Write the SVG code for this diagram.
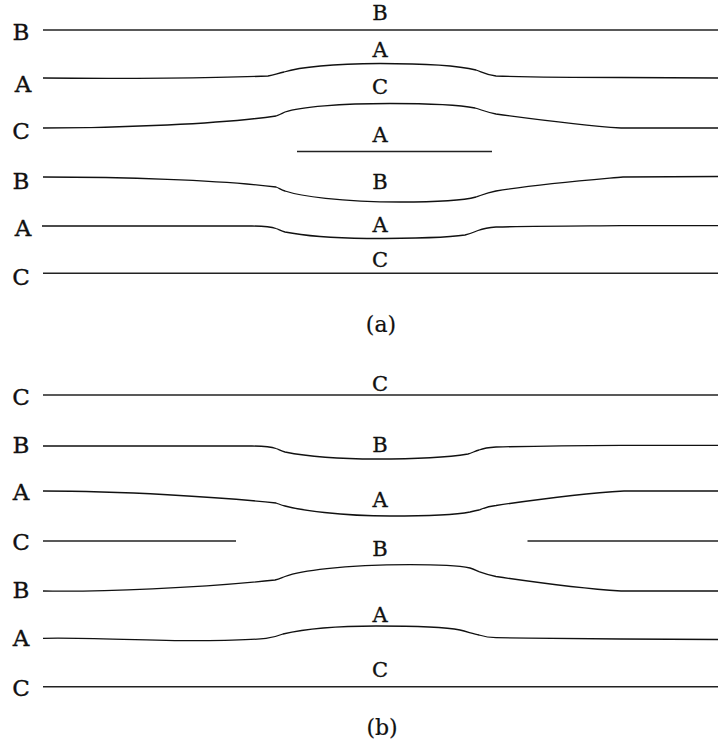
<svg xmlns="http://www.w3.org/2000/svg" width="718" height="747" viewBox="0 0 718 747">
<style>
.bg{fill:#fff}
.ln{fill:none;stroke:#222;stroke-width:1.6}
.cv{fill:none;stroke:#111;stroke-width:1.3}
text{font-family:"DejaVu Serif","Liberation Serif",serif;font-size:21px;fill:#111;stroke:#111;stroke-width:0.35;text-anchor:middle}
.l{font-size:23px}
.cap{font-size:22px;stroke-width:0.2}
</style>
<rect class="bg" x="0" y="0" width="718" height="747"/>
<g id="connectors">
<!-- (a) -->
<path class="ln" d="M43,30 L718,30"/>
<path class="cv" d="M43,78 C120,79 220,78 268,76 C275,75 278,73 284,72 C300,67 330,64 380,63.5 C430,63.5 460,66 476,70 C482,72 486,75 496,76 C540,77.5 590,77.5 621,77.5 L718,78"/>
<path class="cv" d="M43,128 C120,128 220,124 276,116 C279,115 281,114 285,112 C300,107 340,103.5 390,103.5 C430,103.5 460,105 475,108 C482,110 486,112 496,114 C540,120 590,126 621,128 L718,128"/>
<path class="ln" d="M297,151.5 L492,151.5"/>
<path class="cv" d="M43,177 C120,177 220,180 276,187 C279,188 281,190 285,191 C300,196 340,202 400,202 C440,202 465,200 476,197 C482,195 486,193 496,191 C540,184 590,180 623,177 L718,176.5"/>
<path class="cv" d="M42,226 L252,226 C265,226 272,227 276,228.5 C279,229.5 281,231 285,232 C300,235 330,238 367,238.5 C410,238.5 445,238 465,235 C470,234 474,232 478,230.5 C482,229 488,227.5 496,227 C540,226 590,226 621,225.7 L718,225.7"/>
<path class="ln" d="M43,273.3 L718,273.3"/>
<!-- (b) -->
<path class="ln" d="M43,395 L718,395"/>
<path class="cv" d="M43,446 L252,446 C265,446 272,447 276,448.5 C279,449.5 281,451 285,452 C300,455 330,459 376,459 C420,459 450,457 468,454 C472,453 475,451 479,450 C483,448.5 488,447.5 496,447 C540,446 590,445.5 621,445.3 L718,445.3"/>
<path class="cv" d="M43,491 C120,491 220,497 276,503 C279,504 281,505 285,506 C300,510 340,516 390,516 C430,516 455,515 470,512 C474,511 476,510.5 479,510 C484,508 488,506 496,505.5 C540,499 590,493 624,491 L718,491"/>
<path class="ln" d="M43,541 L236,541"/>
<path class="ln" d="M527.5,541 L718,541"/>
<path class="cv" d="M43,591 C100,592 200,588 275,580 C279,579 281,578 285,576.5 C300,571 340,565 410,564.7 C440,564.7 460,566 470,568 C474,569 476,570.5 479,571.7 C484,573.5 488,575 496,576.5 C540,583 590,589 621,591 L718,591"/>
<path class="cv" d="M43,638.3 C80,637 150,641 200,640.7 C230,640.5 255,639.5 266,638.3 C273,637.5 278,636 283,634 C300,630 330,626 376,626 C420,626 445,627 460,630 C468,632 474,634 479,635 C484,636.5 488,637.5 496,637.7 C540,638.5 590,639 621,639 L718,639.5"/>
<path class="ln" d="M43,686.7 L718,686.7"/>
</g>
<g id="labels-a">
<text x="380" y="20">B</text>
<text x="380" y="57">A</text>
<text x="380" y="94">C</text>
<text x="380" y="142">A</text>
<text x="380" y="189">B</text>
<text x="380" y="232">A</text>
<text x="380" y="267">C</text>
<text class="l" x="21" y="40">B</text>
<text class="l" x="23" y="92">A</text>
<text class="l" x="21" y="139">C</text>
<text class="l" x="21" y="189">B</text>
<text class="l" x="23" y="236">A</text>
<text class="l" x="21" y="285">C</text>
<text class="cap" x="381" y="332">(a)</text>
</g>
<g id="labels-b">
<text x="380" y="391">C</text>
<text x="380" y="452">B</text>
<text x="380" y="507">A</text>
<text x="380" y="556">B</text>
<text x="380" y="622">A</text>
<text x="380" y="677">C</text>
<text class="l" x="21" y="405">C</text>
<text class="l" x="21" y="453">B</text>
<text class="l" x="21" y="500">A</text>
<text class="l" x="21" y="550">C</text>
<text class="l" x="21" y="598">B</text>
<text class="l" x="21" y="646">A</text>
<text class="l" x="21" y="696">C</text>
<text class="cap" x="382" y="735">(b)</text>
</g>
</svg>
